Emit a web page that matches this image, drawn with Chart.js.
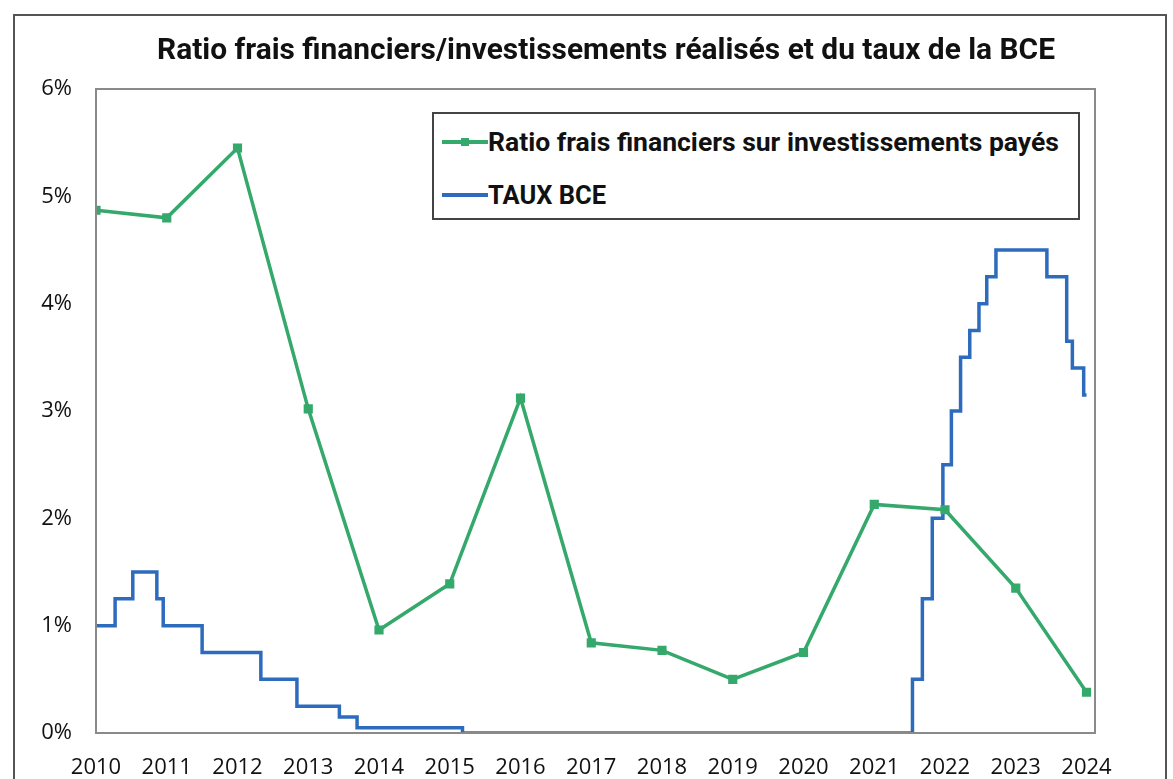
<!DOCTYPE html>
<html lang="fr">
<head>
<meta charset="utf-8">
<title>Ratio frais financiers / taux BCE</title>
<script src="https://cdn.jsdelivr.net/npm/chart.js"></script>
<style>
  body { margin: 0; background: #fff; }
  #wrap { position: relative; width: 1173px; height: 779px; overflow: hidden; font-family: "Liberation Sans Narrow", "Roboto", sans-serif; }
  #frame { position: absolute; left: 13px; top: 14px; width: 1150px; height: 800px; border: 2px solid #555; border-bottom: none; }
  #title { position: absolute; left: 0; top: 32px; white-space: nowrap; font-weight: bold; font-size: 29px; color: #111; transform-origin: 0 0; }
  #legend { position: absolute; left: 432px; top: 112px; width: 644px; height: 104px; border: 2px solid #444; background: #fff; }
  .item { position: absolute; left: 8px; height: 30px; display: flex; align-items: center; }
  .sw { position: relative; width: 46px; height: 30px; }
  .sw i { position: absolute; left: 0; top: 13px; width: 46px; height: 4px; }
  .sw b { position: absolute; left: 19px; top: 11px; width: 8px; height: 8px; }
  .lab { font-weight: bold; font-size: 26px; color: #111; white-space: nowrap; transform-origin: 0 50%; }
  canvas { position: absolute; left: 0; top: 0; }
</style>
</head>
<body>
<div id="wrap">
  <div id="frame"></div>
  <canvas id="chart" width="1173" height="779"></canvas>
  <div id="title">Ratio frais financiers/investissements réalisés et du taux de la BCE</div>
  <div id="legend">
    <div class="item" style="top:13px"><div class="sw"><i style="background:#35a86b"></i><b style="background:#35a86b"></b></div><span class="lab" id="lab1">Ratio frais financiers sur investissements payés</span></div>
    <div class="item" style="top:66px"><div class="sw"><i style="background:#2d6bbd"></i></div><span class="lab" id="lab2">TAUX BCE</span></div>
  </div>
</div>
<script>
// annees et ratio frais financiers / investissements (%)
const years = [2010, 2011, 2012, 2013, 2014, 2015, 2016, 2017, 2018, 2019, 2020, 2021, 2022, 2023, 2024];
const ratio = [4.87, 4.80, 5.45, 3.02, 0.96, 1.39, 3.12, 0.84, 0.77, 0.50, 0.75, 2.13, 2.08, 1.35, 0.38];

// taux BCE : date du changement (annee decimale) et nouveau taux (%)
const bceDates = [2010, 2010.27, 2010.52, 2010.86, 2010.95, 2011.50, 2012.33, 2012.84, 2013.44, 2013.69, 2015.18,
                  2021.54, 2021.68, 2021.82, 2021.97, 2022.09, 2022.22, 2022.35, 2022.48, 2022.59, 2022.72,
                  2023.44, 2023.72, 2023.80, 2023.96, 2024.0];
const bceRates = [1.00, 1.25, 1.50, 1.25, 1.00, 0.75, 0.50, 0.25, 0.15, 0.05, 0.00,
                  0.50, 1.25, 2.00, 2.50, 3.00, 3.50, 3.75, 4.00, 4.25, 4.50,
                  4.25, 3.65, 3.40, 3.15, 3.15];

const yTicks = [0, 1, 2, 3, 4, 5, 6];

const green = '#35a86b';
const blue = '#2d6bbd';

// cadre gris autour de la zone du graphique
const plotBorder = {
    id: 'plotBorder',
    afterDraw(chart) {
        const a = chart.chartArea, c = chart.ctx;
        c.save();
        c.strokeStyle = '#8a8a8a';
        c.lineWidth = 2;
        c.strokeRect(a.left, a.top, a.right - a.left, a.bottom - a.top);
        c.restore();
    }
};

const ctx = document.getElementById('chart').getContext('2d');
const chart = new Chart(ctx, {
    type: 'line',
    data: {
        datasets: [{
            label: 'Ratio frais financiers sur investissements payés',
            data: years.map((y, i) => ({ x: y, y: ratio[i] })),
            borderColor: green,
            backgroundColor: green,
            borderWidth: 3.5,
            pointStyle: 'rect',
            pointRadius: 4,
            tension: 0
        }, {
            label: 'TAUX BCE',
            data: bceDates.map((d, i) => ({ x: d, y: bceRates[i] })),
            borderColor: blue,
            backgroundColor: blue,
            borderWidth: 3.5,
            pointRadius: 0,
            stepped: true
        }]
    },
    options: {
        responsive: false,
        animation: false,
        layout: { padding: { top: 89, left: 16, right: 78, bottom: 0 } },
        scales: {
            x: {
                type: 'linear',
                min: 2010,
                max: 2024.12,
                afterBuildTicks: s => { s.ticks = years.map(v => ({ value: v })); },
                afterFit: s => { s.height = 46; },
                grid: { display: false },
                border: { display: false },
                ticks: {
                    callback: v => String(v),
                    color: '#111',
                    padding: 14,
                    maxRotation: 0,
                    autoSkip: false,
                    font: { family: 'Open Sans', size: 22 }
                }
            },
            y: {
                min: 0,
                max: 6,
                afterBuildTicks: s => { s.ticks = yTicks.map(v => ({ value: v })); },
                afterFit: s => { s.width = 80; },
                grid: { display: false },
                border: { display: false },
                ticks: {
                    callback: v => v + '%',
                    color: '#111',
                    padding: 16,
                    font: { family: 'Open Sans', size: 22 }
                }
            }
        },
        plugins: {
            legend: { display: false },
            tooltip: { enabled: false }
        }
    },
    plugins: [plotBorder]
});

// ajuste la largeur des textes HTML sur celle de la reference
function fit(el, width, left) {
    const w = el.getBoundingClientRect().width;
    el.style.transform = 'scaleX(' + (width / w) + ')';
    if (left !== undefined) el.style.left = left + 'px';
}
fit(document.getElementById('title'), 898, 157);
fit(document.getElementById('lab1'), 571);
fit(document.getElementById('lab2'), 118);
</script>
</body>
</html>
